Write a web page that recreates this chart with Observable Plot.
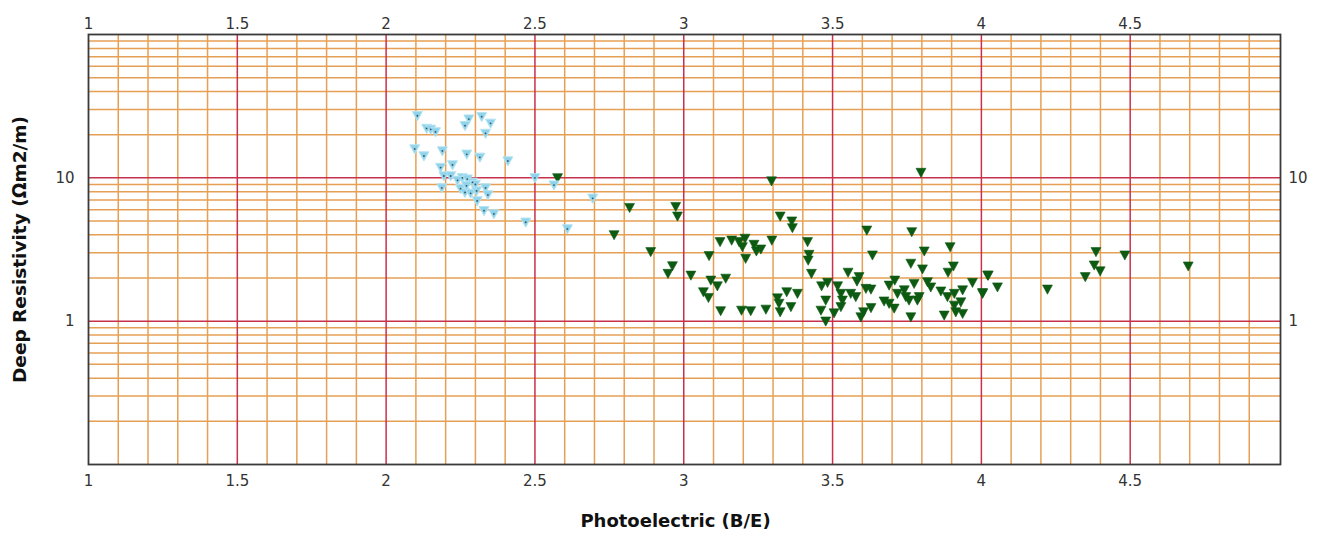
<!DOCTYPE html>
<html>
<head>
<meta charset="utf-8">
<script src="https://cdn.jsdelivr.net/npm/d3@7"></script>
<script src="https://cdn.jsdelivr.net/npm/@observablehq/plot@0.6"></script>
<style>
  html, body { margin: 0; padding: 0; background: #fff; }
  #chart { width: 1318px; height: 534px; }
</style>
</head>
<body>
<div id="chart"></div>
<script>
// Tick labels
const xTicks = [1, 1.5, 2, 2.5, 3, 3.5, 4, 4.5];
const yTicks = [1, 10];
const xMajorGrid = [1.5, 2, 2.5, 3, 3.5, 4, 4.5];
const xMinorGrid = [1.1,1.2,1.3,1.4,1.6,1.7,1.8,1.9,2.1,2.2,2.3,2.4,2.6,2.7,2.8,2.9,3.1,3.2,3.3,3.4,3.6,3.7,3.8,3.9,4.1,4.2,4.3,4.4,4.6,4.7,4.8,4.9];
const yMajorGrid = [1, 10];
const yMinorGrid = [0.2,0.3,0.4,0.5,0.6,0.7,0.8,0.9,2,3,4,5,6,7,8,9,20,30,40,50,60,70,80,90];

// Series 1 (light blue)
const blueX = [2.105,2.278,2.321,2.351,2.265,2.136,2.150,2.166,2.334,2.096,2.189,2.127,2.271,2.315,2.409,2.223,2.183,2.194,2.217,2.256,2.273,2.290,2.187,2.250,2.265,2.284,2.304,2.334,2.342,2.306,2.329,2.362,2.469,2.500,2.564,2.609,2.694,2.240,2.300,2.270];
const blueY = [27.1,25.7,26.7,24.0,23.1,22.1,21.8,20.9,20.4,15.9,15.4,14.2,14.6,13.9,13.1,12.3,11.8,10.3,10.3,10.0,9.8,9.3,8.5,8.4,7.9,7.8,8.1,8.5,7.6,6.9,5.9,5.6,4.9,10.0,8.9,4.4,7.2,9.6,9.0,8.8];

// Series 2 (dark green)
const greenX = [2.576,2.818,2.973,2.979,2.766,2.889,2.962,2.947,3.024,3.122,3.161,3.186,3.206,3.197,3.236,3.244,3.259,3.296,3.208,3.085,3.141,3.091,3.113,3.066,3.083,3.124,3.194,3.225,3.276,3.324,3.295,3.324,3.363,3.365,3.346,3.382,3.315,3.320,3.360,
  3.797,3.416,3.421,3.418,3.429,3.615,3.634,3.766,3.808,3.895,3.763,3.906,3.802,3.888,4.021,3.552,3.589,3.582,3.483,3.463,3.517,3.528,3.561,3.578,3.612,3.629,3.533,3.477,3.461,3.477,3.505,3.528,3.604,3.595,3.629,3.673,3.690,3.709,3.718,3.690,3.707,3.741,3.746,3.757,3.774,3.791,3.785,3.763,3.819,3.830,3.864,3.886,3.909,3.937,3.970,4.004,3.909,3.931,3.914,3.937,3.875,
  4.385,4.482,4.379,4.399,4.349,4.695,4.023,4.054,4.222,4.004];
const greenY = [10.0,6.2,6.3,5.4,4.0,3.05,2.43,2.15,2.09,3.58,3.67,3.58,3.78,3.30,3.43,3.08,3.18,3.67,2.74,2.86,1.99,1.93,1.76,1.60,1.46,1.18,1.19,1.18,1.21,1.16,9.5,5.4,4.99,4.48,1.60,1.56,1.45,1.33,1.26,
  10.9,3.58,2.92,2.66,2.15,4.31,2.89,4.20,3.08,3.30,2.53,2.42,2.31,2.19,2.09,2.19,2.04,1.90,1.86,1.76,1.76,1.56,1.56,1.48,1.69,1.67,1.40,1.40,1.19,1.00,1.14,1.26,1.16,1.07,1.24,1.38,1.78,1.93,1.56,1.33,1.23,1.65,1.48,1.40,1.83,1.48,1.40,1.07,1.88,1.73,1.62,1.48,1.56,1.65,1.86,1.56,1.29,1.36,1.16,1.13,1.10,
  3.05,2.89,2.46,2.24,2.04,2.42,2.09,1.73,1.67,1.58];

const blue = blueX.map((x, i) => ({x, y: blueY[i]}));
const green = greenX.map((x, i) => ({x, y: greenY[i]}));

const triDown = {
  draw(ctx, size) {
    const w = Math.sqrt(size) * 1.12;
    ctx.moveTo(-w / 2, -w * 0.42);
    ctx.lineTo(w / 2, -w * 0.42);
    ctx.lineTo(0, w * 0.5);
    ctx.closePath();
  }
};

const ORANGE = "#e6a056";
const RED = "#c8314c";
const FONT = "DejaVu Sans, Verdana, sans-serif";
const TICKFS = 15;

const chart = Plot.plot({
  width: 1318,
  height: 534,
  marginLeft: 88,
  marginRight: 38,
  marginTop: 34,
  marginBottom: 70,
  style: {fontFamily: FONT, fontSize: "15px", color: "#333", background: "#fff"},
  x: {domain: [1, 5.005], axis: null},
  y: {type: "log", domain: [0.1, 100], axis: null},
  marks: [
    Plot.ruleX(xMinorGrid, {stroke: ORANGE, strokeWidth: 1.5}),
    Plot.ruleY(yMinorGrid, {stroke: ORANGE, strokeWidth: 1.5}),
    Plot.ruleX(xMajorGrid, {stroke: RED, strokeWidth: 1.5}),
    Plot.ruleY(yMajorGrid, {stroke: RED, strokeWidth: 1.5}),
    Plot.frame({stroke: "#3a3a3a", strokeWidth: 1.8}),
    Plot.axisX({anchor: "top", ticks: xTicks, tickSize: 0, tickPadding: 6, tickFormat: d => String(d), label: null, fontSize: TICKFS}),
    Plot.axisX({anchor: "bottom", ticks: xTicks, tickSize: 0, tickPadding: 11, tickFormat: d => String(d), label: null, fontSize: TICKFS}),
    Plot.axisY({anchor: "left", ticks: yTicks, tickSize: 0, tickPadding: 14, tickFormat: d => String(d), label: null, fontSize: TICKFS}),
    Plot.axisY({anchor: "right", ticks: yTicks, tickSize: 0, tickPadding: 8, tickFormat: d => String(d), label: null, fontSize: TICKFS}),
    Plot.dot(green, {x: "x", y: "y", symbol: triDown, r: 5, fill: "#0d5a12", stroke: "#0d5a12", strokeWidth: 0.6}),
    Plot.dot(blue, {x: "x", y: "y", symbol: triDown, r: 5, fill: "#8fd2ea", stroke: "#b4e3f2", strokeWidth: 1}),
    Plot.dot(blue, {x: "x", y: "y", r: 0.9, fill: "#2f5666"}),
    Plot.text(["Deep Resistivity (Ωm2/m)"], {frameAnchor: "left", dx: -68, rotate: -90, textAnchor: "middle", fontWeight: "bold", fontSize: 18.5, fill: "#111"}),
    Plot.text(["Photoelectric (B/E)"], {frameAnchor: "bottom", dy: 62, dx: -9, fontWeight: "bold", fontSize: 18, fill: "#111"})
  ]
});
document.getElementById("chart").append(chart);
</script>
</body>
</html>
